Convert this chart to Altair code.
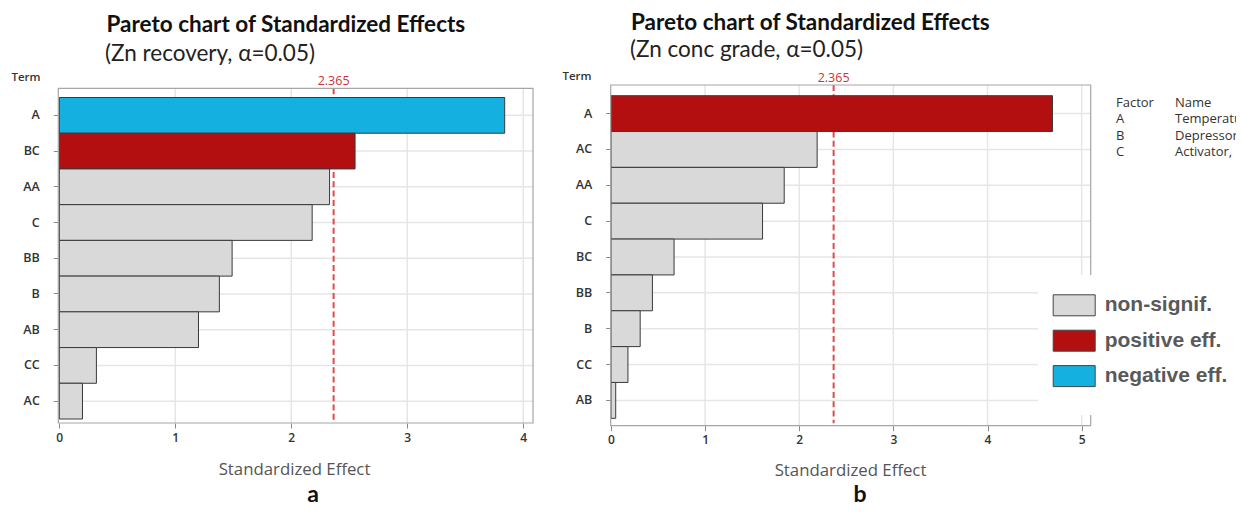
import altair as alt
import pandas as pd

# ---------------- data ----------------
terms_a = ["A", "BC", "AA", "C", "BB", "B", "AB", "CC", "AC"]
effects_a = [3.84, 2.55, 2.33, 2.18, 1.49, 1.38, 1.20, 0.32, 0.20]
class_a = ["negative eff.", "positive eff.", "non-signif.", "non-signif.", "non-signif.",
           "non-signif.", "non-signif.", "non-signif.", "non-signif."]

terms_b = ["A", "AC", "AA", "C", "BC", "BB", "B", "CC", "AB"]
effects_b = [4.69, 2.19, 1.84, 1.61, 0.67, 0.44, 0.31, 0.18, 0.05]
class_b = ["positive eff.", "non-signif.", "non-signif.", "non-signif.", "non-signif.",
           "non-signif.", "non-signif.", "non-signif.", "non-signif."]

ticks_a = [0, 1, 2, 3, 4]
ticks_b = [0, 1, 2, 3, 4, 5]
threshold = 2.365

classes = ["non-signif.", "positive eff.", "negative eff."]
class_colors = ["#d9d9d9", "#b30f11", "#14b1e0"]

title_main = "Pareto chart of Standardized Effects"
subtitle_a = "(Zn recovery, α=0.05)"
subtitle_b = "(Zn conc grade, α=0.05)"
panel_labels = ["a", "b"]

table_codes = ["Factor", "A", "B", "C"]
table_names = ["Name", "Temperature", "Depressor,", "Activator,"]

W, H = 1228, 500
one = pd.DataFrame({"k": [0]})

color_enc = alt.Color(
    "cls:N",
    scale=alt.Scale(domain=classes, range=class_colors),
    legend=alt.Legend(
        title=None, orient="none", legendX=1044.7, legendY=286.3,
        symbolType="M-1,-1H3V1H-1Z", symbolSize=441,
        symbolStrokeColor="#444", symbolStrokeWidth=1, symbolOpacity=1,
        labelFont="Liberation Sans", labelFontWeight="bold", labelFontSize=21,
        labelColor="#595959", labelOffset=30, rowPadding=9.4, padding=0,
    ),
)


def panel(terms, effects, cls, ticks, xmax, xrange, yrange, frame, x_off, y_off,
          term_x, term_y, title_x, title_y, thr_label_y):
    df = pd.DataFrame({"term": terms, "effect": effects, "cls": cls})
    tdf = pd.DataFrame({"tick": ticks})
    thr = pd.DataFrame({"thr": [threshold]})
    xs = alt.Scale(domain=[0, xmax], range=xrange, nice=False, zero=False)
    ys = alt.Scale(domain=terms, range=yrange, paddingInner=0, paddingOuter=0)
    fx0, fx1, fy0, fy1 = frame

    y_axis = alt.Axis(
        orient="left", offset=y_off, domain=False, ticks=True, tickSize=5,
        tickColor="#888", grid=False,
        labelFont="Open Sans", labelFontWeight=600, labelFontSize=12.5,
        labelColor="#333", labelPadding=14,
        title="Term", titleAngle=0, titleX=term_x, titleY=term_y,
        titleAlign="left", titleBaseline="alphabetic",
        titleFont="Open Sans", titleFontWeight=600, titleFontSize=11.5,
        titleColor="#333")
    x_axis = alt.Axis(
        orient="bottom", offset=x_off, values=ticks, domain=False, grid=False,
        ticks=True, tickSize=5, tickColor="#888", labelFlush=False,
        labelFont="Open Sans", labelFontWeight=600, labelFontSize=12,
        labelColor="#333", labelPadding=4, format="d",
        title="Standardized Effect", titleX=title_x, titleY=title_y,
        titleBaseline="alphabetic", titleFont="Open Sans",
        titleFontWeight="normal", titleFontSize=16.8, titleColor="#555")

    hgrid = alt.Chart(df).mark_rule(color="#e6e6e6", strokeWidth=1.5).encode(
        y=alt.Y("term:N", scale=ys, axis=y_axis),
        x=alt.value(fx0), x2=alt.value(fx1),
    )
    vgrid = alt.Chart(tdf).transform_filter("datum.tick > 0").mark_rule(
        color="#e6e6e6", strokeWidth=1.5).encode(
        x=alt.X("tick:Q", scale=xs, axis=x_axis),
        y=alt.value(fy0), y2=alt.value(fy1),
    )
    thr_rule = alt.Chart(thr).mark_rule(
        color="#e24a4a", strokeWidth=2, strokeDash=[6, 3.3]).encode(
        x=alt.X("thr:Q", scale=xs, axis=x_axis),
        y=alt.value(fy0), y2=alt.value(fy1 - 2.5),
    )
    bars = alt.Chart(df).mark_bar(stroke="#3a3a3a", strokeWidth=1).encode(
        y=alt.Y("term:N", scale=ys, axis=y_axis),
        x=alt.X("effect:Q", scale=xs, axis=x_axis),
        color=color_enc,
    )
    frame_mark = alt.Chart(one).mark_rect(
        fillOpacity=0, stroke="#a6a6a6", strokeWidth=1.2).encode(
        x=alt.value(fx0), x2=alt.value(fx1), y=alt.value(fy0), y2=alt.value(fy1),
    )
    thr_label = alt.Chart(thr).mark_text(
        font="Open Sans", fontSize=12.5, color="#cc3333", baseline="alphabetic").encode(
        x=alt.X("thr:Q", scale=xs, axis=x_axis),
        y=alt.value(thr_label_y),
        text=alt.Text("thr:Q", format=".3f"),
    )
    return alt.layer(hgrid, vgrid, thr_rule, bars, frame_mark, thr_label)


panel_a = panel(terms_a, effects_a, class_a, ticks_a, 4.084, [51.3, 525],
                [89.5, 411], (50.3, 525, 80.3, 415), 415 - H, -50.3,
                -47.3, 72, 286, 51, 77)
panel_b = panel(terms_b, effects_b, class_b, ticks_b, 5.096, [603, 1082.7],
                [87.7, 410.3], (602.7, 1082.7, 77, 417.7), 417.7 - H, -602.7,
                -48.7, 71, 842, 50, 74)


def label(text, x, y, size, weight="normal", font="Lato", color="#111", align="left"):
    return alt.Chart(one).mark_text(
        text=text, font=font, fontSize=size, fontWeight=weight, color=color,
        align=align, baseline="alphabetic").encode(x=alt.value(x), y=alt.value(y))


texts = [
    label(title_main, 98.5, 24, 22.5, "bold"),
    label(subtitle_a, 97, 53, 22.5, "normal", color="#222"),
    label(title_main, 623, 22, 22.5, "bold"),
    label(subtitle_b, 622, 49, 22.5, "normal", color="#222"),
    label(panel_labels[0], 305, 494, 23, "bold", align="center"),
    label(panel_labels[1], 852, 494, 23, "bold", align="center"),
]

tdf = pd.DataFrame({"code": table_codes, "name": table_names})
row_scale = alt.Scale(type="point", domain=table_codes, range=[99, 148], padding=0)
table_codes_l = alt.Chart(tdf).mark_text(
    font="Open Sans", fontSize=13, color="#333", align="left", baseline="alphabetic").encode(
    x=alt.value(1108), y=alt.Y("code:N", scale=row_scale, axis=None), text="code:N")
table_names_l = alt.Chart(tdf).mark_text(
    font="Open Sans", fontSize=13, color="#333", align="left", baseline="alphabetic").encode(
    x=alt.value(1167), y=alt.Y("code:N", scale=row_scale, axis=None), text="name:N")

legend_box = alt.Chart(one).mark_rect(fill="white").encode(
    x=alt.value(1030), x2=alt.value(1240), y=alt.value(267), y2=alt.value(407))

chart = alt.layer(
    panel_a, panel_b, *texts, alt.layer(table_codes_l, table_names_l), legend_box
).resolve_scale(x="independent", y="independent").properties(
    width=W, height=H, autosize=alt.AutoSizeParams(type="none"), padding=0
).configure_view(stroke=None)

chart.save("out.html", embed_options={"renderer": "svg", "actions": False})
